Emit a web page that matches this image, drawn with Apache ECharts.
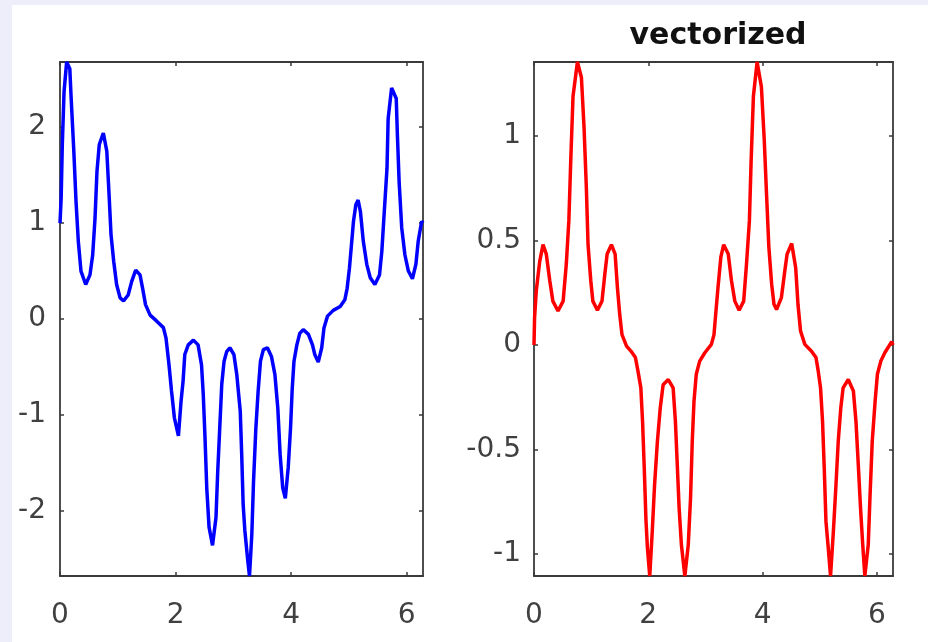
<!DOCTYPE html>
<html>
<head>
<meta charset="utf-8">
<script src="https://cdn.jsdelivr.net/npm/echarts@6/dist/echarts.min.js"></script>
<style>
  html, body { margin: 0; padding: 0; background: #EEEEFB; }
  #chart { width: 928px; height: 642px; }
</style>
</head>
<body>
<div id="chart"></div>
<script>
// ---- data ----
var leftX = [0, 0.02, 0.04, 0.07, 0.115, 0.17, 0.19, 0.237, 0.277, 0.317, 0.363, 0.445, 0.519, 0.566, 0.606, 0.64, 0.68, 0.75, 0.81, 0.85, 0.883, 0.93, 0.98, 1.04, 1.10, 1.18, 1.24, 1.31, 1.385, 1.43, 1.48, 1.56, 1.67, 1.79, 1.835, 1.887, 1.93, 1.98, 2.05, 2.095, 2.13, 2.16, 2.22, 2.31, 2.39, 2.45, 2.48, 2.51, 2.54, 2.58, 2.64, 2.70, 2.73, 2.77, 2.80, 2.84, 2.885, 2.94, 3.01, 3.06, 3.12, 3.145, 3.17, 3.20, 3.25, 3.28, 3.32, 3.35, 3.39, 3.43, 3.47, 3.52, 3.59, 3.66, 3.72, 3.77, 3.81, 3.855, 3.90, 3.95, 3.99, 4.02, 4.05, 4.10, 4.15, 4.21, 4.30, 4.37, 4.41, 4.47, 4.53, 4.57, 4.63, 4.73, 4.85, 4.93, 4.97, 5.01, 5.04, 5.08, 5.12, 5.16, 5.20, 5.25, 5.31, 5.37, 5.45, 5.53, 5.57, 5.61, 5.66, 5.68, 5.74, 5.82, 5.84, 5.87, 5.915, 5.97, 6.03, 6.10, 6.16, 6.20, 6.26, 6.2832];
var leftY = [1.0, 1.26, 1.82, 2.37, 2.68, 2.61, 2.34, 1.78, 1.23, 0.81, 0.50, 0.36, 0.46, 0.67, 1.05, 1.54, 1.82, 1.94, 1.75, 1.29, 0.88, 0.60, 0.36, 0.22, 0.19, 0.25, 0.39, 0.51, 0.46, 0.32, 0.15, 0.04, -0.02, -0.09, -0.2, -0.48, -0.75, -1.03, -1.22, -0.86, -0.65, -0.37, -0.27, -0.22, -0.27, -0.48, -0.79, -1.24, -1.76, -2.17, -2.36, -2.07, -1.59, -1.07, -0.68, -0.44, -0.34, -0.30, -0.37, -0.58, -0.96, -1.41, -1.93, -2.21, -2.52, -2.68, -2.25, -1.69, -1.14, -0.75, -0.44, -0.32, -0.30, -0.39, -0.58, -0.93, -1.41, -1.76, -1.87, -1.55, -1.14, -0.72, -0.44, -0.27, -0.15, -0.11, -0.16, -0.27, -0.37, -0.45, -0.30, -0.09, 0.03, 0.09, 0.13, 0.20, 0.32, 0.53, 0.74, 1.02, 1.19, 1.24, 1.12, 0.81, 0.57, 0.43, 0.36, 0.46, 0.70, 1.09, 1.57, 2.09, 2.41, 2.30, 1.92, 1.43, 0.95, 0.67, 0.50, 0.42, 0.57, 0.81, 1.02, 1.0];

var rightX = [0, 0.01, 0.04, 0.10, 0.158, 0.215, 0.275, 0.33, 0.42, 0.51, 0.566, 0.61, 0.643, 0.683, 0.76, 0.83, 0.876, 0.916, 0.946, 0.993, 1.03, 1.11, 1.19, 1.24, 1.28, 1.355, 1.42, 1.46, 1.50, 1.54, 1.62, 1.70, 1.775, 1.82, 1.87, 1.90, 1.93, 1.96, 1.985, 2.026, 2.07, 2.11, 2.16, 2.21, 2.26, 2.35, 2.435, 2.475, 2.505, 2.54, 2.58, 2.64, 2.70, 2.74, 2.77, 2.80, 2.84, 2.90, 2.99, 3.105, 3.15, 3.18, 3.22, 3.27, 3.32, 3.40, 3.455, 3.515, 3.59, 3.67, 3.72, 3.77, 3.80, 3.84, 3.905, 3.98, 4.03, 4.07, 4.11, 4.16, 4.20, 4.245, 4.33, 4.39, 4.43, 4.51, 4.58, 4.62, 4.665, 4.74, 4.857, 4.935, 4.975, 5.015, 5.05, 5.08, 5.11, 5.15, 5.19, 5.24, 5.285, 5.325, 5.37, 5.41, 5.50, 5.59, 5.635, 5.675, 5.715, 5.75, 5.79, 5.85, 5.88, 5.92, 5.97, 6.01, 6.07, 6.14, 6.26, 6.2832];
var rightY = [0, 0.13, 0.26, 0.40, 0.48, 0.435, 0.31, 0.21, 0.163, 0.21, 0.39, 0.595, 0.88, 1.19, 1.354, 1.28, 1.04, 0.755, 0.48, 0.31, 0.21, 0.166, 0.21, 0.34, 0.435, 0.48, 0.435, 0.275, 0.147, 0.05, -0.005, -0.03, -0.06, -0.125, -0.205, -0.365, -0.59, -0.84, -0.97, -1.105, -0.89, -0.67, -0.46, -0.30, -0.19, -0.165, -0.205, -0.365, -0.556, -0.78, -0.956, -1.105, -0.956, -0.73, -0.46, -0.27, -0.14, -0.077, -0.037, 0.003, 0.05, 0.147, 0.275, 0.42, 0.48, 0.435, 0.31, 0.21, 0.166, 0.21, 0.39, 0.595, 0.88, 1.19, 1.354, 1.235, 0.98, 0.72, 0.47, 0.29, 0.195, 0.17, 0.227, 0.355, 0.435, 0.486, 0.37, 0.195, 0.067, 0.003, -0.03, -0.06, -0.125, -0.205, -0.365, -0.59, -0.845, -0.97, -1.105, -0.89, -0.67, -0.46, -0.30, -0.205, -0.165, -0.22, -0.365, -0.57, -0.78, -0.94, -1.105, -0.956, -0.73, -0.46, -0.27, -0.14, -0.077, -0.037, 0.016, 0];

var xTicks = [0, 2, 4, 6];
var leftYTicks = [-2, -1, 0, 1, 2];
var rightYTicks = [-1, -0.5, 0, 0.5, 1];
var titleRight = 'vectorized';

// ---- chart ----
function zip(xs, ys) { return xs.map(function (x, i) { return [x, ys[i]]; }); }

var axisColor = '#3a3a3a';
var labelFont = { fontFamily: 'DejaVu Sans', fontSize: 28, color: '#404040' };

function makeAxis(gridIndex, position, min, max, ticks, showLabels, margin) {
  return {
    type: 'value', gridIndex: gridIndex, position: position,
    min: min, max: max,
    axisLine: { show: true, onZero: false, lineStyle: { color: axisColor, width: 1.8 } },
    axisTick: { show: true, inside: true, length: 4, customValues: ticks, lineStyle: { color: axisColor, width: 1.5 } },
    axisLabel: Object.assign({ show: showLabels, customValues: ticks, margin: margin }, labelFont),
    splitLine: { show: false }
  };
}

var chart = echarts.init(document.getElementById('chart'), null, { renderer: 'canvas' });
chart.setOption({
  animation: false,
  backgroundColor: '#EEEEFB',
  graphic: [{ type: 'rect', z: -100, silent: true, shape: { x: 12, y: 5, width: 916, height: 637 }, style: { fill: '#ffffff' } }],
  title: [{
    text: titleRight, left: 713, top: 16, textAlign: 'center',
    textStyle: { fontFamily: 'DejaVu Sans', fontWeight: 'bold', fontSize: 30, lineHeight: 30, color: '#111111' }
  }],
  grid: [
    { left: 60, top: 62, width: 363, height: 514 },
    { left: 534, top: 62, width: 359, height: 514 }
  ],
  xAxis: [
    makeAxis(0, 'bottom', 0, 6.2832, xTicks, true, 26),
    makeAxis(0, 'top', 0, 6.2832, xTicks, false, 8),
    makeAxis(1, 'bottom', 0, 6.2832, xTicks, true, 26),
    makeAxis(1, 'top', 0, 6.2832, xTicks, false, 8)
  ],
  yAxis: [
    makeAxis(0, 'left', -2.68, 2.68, leftYTicks, true, 14),
    makeAxis(0, 'right', -2.68, 2.68, leftYTicks, false, 8),
    makeAxis(1, 'left', -1.105, 1.354, rightYTicks, true, 13),
    makeAxis(1, 'right', -1.105, 1.354, rightYTicks, false, 8)
  ],
  series: [
    { type: 'line', xAxisIndex: 0, yAxisIndex: 0, data: zip(leftX, leftY), showSymbol: false, clip: true,
      lineStyle: { color: '#0000FF', width: 3.5 }, itemStyle: { color: '#0000FF' } },
    { type: 'line', xAxisIndex: 2, yAxisIndex: 2, data: zip(rightX, rightY), showSymbol: false, clip: true,
      lineStyle: { color: '#FF0000', width: 3.5 }, itemStyle: { color: '#FF0000' } }
  ]
});
</script>
</body>
</html>
